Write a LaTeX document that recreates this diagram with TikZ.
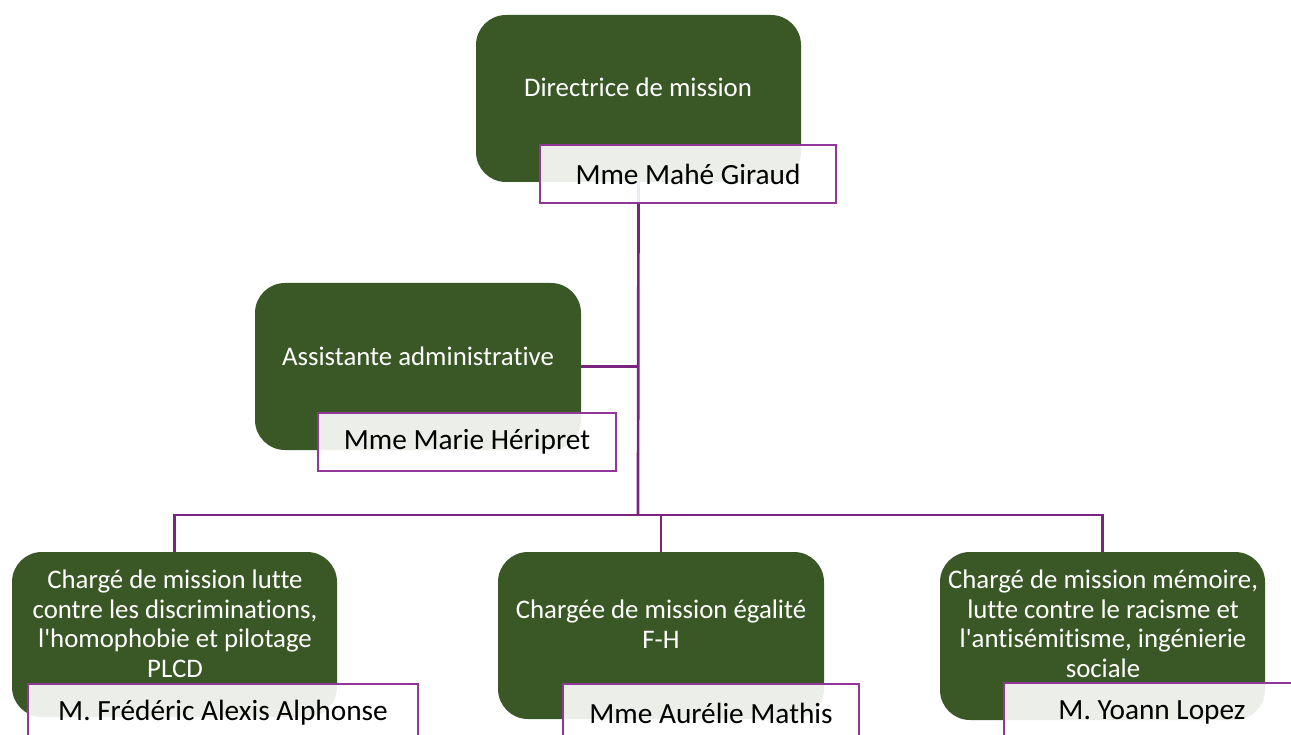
\documentclass[tikz,border=0pt]{standalone}
\usepackage{fontspec}
\setmainfont{Carlito}[Ligatures={TeXOff,NoCommon}]
\definecolor{orggreen}{RGB}{58,88,38}
\definecolor{orgpurple}{RGB}{145,55,152}
\definecolor{linepurple}{RGB}{122,36,128}
\tikzset{
  greenbox/.style={draw=none, fill=orggreen, rounded corners=30pt, inner sep=0pt, minimum width=#1},
  greenbox/.default=325pt,
  gtext/.style={text=white, align=center, font=\fontsize{26.8}{29.5}\selectfont, inner sep=0pt},
  namebox/.style={draw=orgpurple, line width=2.4pt, fill=white, fill opacity=0.9, text opacity=1,
    text=black, font=\fontsize{29.3}{32}\selectfont, minimum height=58pt, inner sep=0pt, minimum width=#1},
  conn/.style={draw=linepurple, line width=2.7pt}
}
\begin{document}
\begin{tikzpicture}[x=1pt,y=-1pt]
\clip (0,0) rectangle (1291,735);
\useasboundingbox (0,0) rectangle (1291,735);
% green boxes
\node[greenbox, minimum height=167pt] (top) at (638.5,98.5) {};
\node[greenbox, minimum height=167pt, minimum width=326pt] (asst) at (418,366.5) {};
\node[greenbox, minimum height=165pt] (b1) at (174.5,634.5) {};
\node[greenbox, minimum height=167pt, minimum width=326pt] (b2) at (661,635.5) {};
\node[greenbox, minimum height=168pt] (b3) at (1102.5,636) {};
% titles
\node[gtext] (toptxt) at (638,87) {Directrice de mission};
\node[gtext] (assttxt) at (418,356) {Assistante administrative};
\node[gtext] (b1txt) at (175,624) {Chargé de mission lutte\\contre les discriminations,\\l'homophobie et pilotage\\PLCD};
\node[gtext] (b2txt) at (661,624) {Chargée de mission égalité\\F-H};
\node[gtext] (b3txt) at (1103,624) {Chargé de mission mémoire,\\lutte contre le racisme et\\l'antisémitisme, ingénierie\\sociale};
% connectors
\coordinate (bus) at (638,515);
\draw[conn] (top.south) -- (bus);
\draw[conn] (asst.east) -- (asst.east -| top.south);
\draw[conn] (b1.north) -- (b1.north |- bus) -- (b3.north |- bus) -- (b3.north);
\draw[conn] (b2.north) -- (b2.north |- bus);
% name boxes
\node[namebox=296pt] (topname) at (688,174) {Mme Mahé Giraud};
\node[namebox=298pt] (asstname) at (467,442) {Mme Marie Héripret};
\node[namebox=390pt] (b1name) at (223,713) {M. Frédéric Alexis Alphonse};
\node[namebox=296pt] (b2name) at (711,713) {Mme Aurélie Mathis};
\node[namebox=296pt] (b3name) at (1152,712) {M. Yoann Lopez};
\end{tikzpicture}
\end{document}
